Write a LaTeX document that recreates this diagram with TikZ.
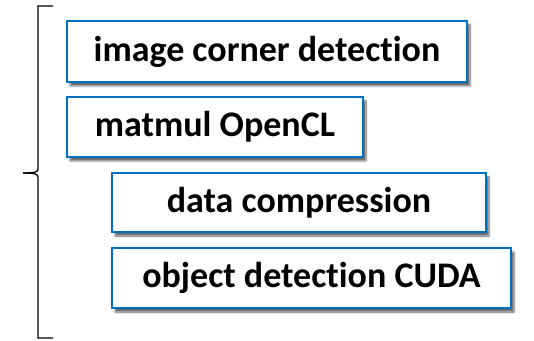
\documentclass[tikz,border=0pt]{standalone}
\usepackage{fontspec}
\setmainfont[Ligatures=NoCommon]{Carlito}
\usetikzlibrary{positioning,shadows.blur}

\definecolor{boxblue}{RGB}{0,112,192}

\begin{document}
\begin{tikzpicture}[x=1pt,y=1pt,
    taskbox/.style={draw=boxblue, line width=1.6pt, fill=white, inner sep=0pt,
        font=\bfseries\fontsize{36}{40}\selectfont,
        blur shadow={shadow xshift=3pt, shadow yshift=-4pt, shadow blur steps=6, shadow opacity=60}}]
    \useasboundingbox (0,0) rectangle (534,340);
    % task boxes
    \node[taskbox, minimum width=400pt, minimum height=61pt] (corner) at (267,288.5) {image corner detection};
    \node[taskbox, minimum width=296pt, minimum height=60pt] (matmul) at (215,213) {matmul OpenCL};
    \node[taskbox, minimum width=374pt, minimum height=59pt] (compress) at (299,137.5) {data compression};
    \node[taskbox, minimum width=399pt, minimum height=60pt] (objdet) at (311.5,62) {object detection CUDA};
    % brace
    \coordinate (bracetop) at (53,334);
    \coordinate (bracebot) at (53,2);
    \coordinate (bracetip) at (23,167);
    \draw[line width=1.3pt] (bracetop) -- (38,334) -- (38,171)
        .. controls (38,168) and (35,167) .. (bracetip);
    \draw[line width=1.3pt] (bracebot) -- (38,2) -- (38,163)
        .. controls (38,166) and (35,167) .. (bracetip);
\end{tikzpicture}
\end{document}
